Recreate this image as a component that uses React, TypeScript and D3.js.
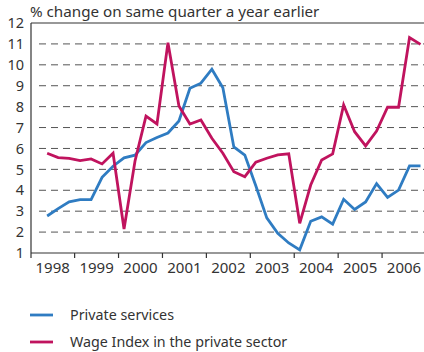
import React from "react";
import * as d3 from "d3";

const years = ["1998", "1999", "2000", "2001", "2002", "2003", "2004", "2005", "2006"];
const quarters = [
  "1998Q2", "1998Q3", "1998Q4",
  "1999Q1", "1999Q2", "1999Q3", "1999Q4",
  "2000Q1", "2000Q2", "2000Q3", "2000Q4",
  "2001Q1", "2001Q2", "2001Q3", "2001Q4",
  "2002Q1", "2002Q2", "2002Q3", "2002Q4",
  "2003Q1", "2003Q2", "2003Q3", "2003Q4",
  "2004Q1", "2004Q2", "2004Q3", "2004Q4",
  "2005Q1", "2005Q2", "2005Q3", "2005Q4",
  "2006Q1", "2006Q2", "2006Q3", "2006Q4",
];
const privateServices = [
  2.77, 3.12, 3.45,
  3.55, 3.55, 4.62, 5.15,
  5.55, 5.68, 6.28, 6.52,
  6.74, 7.31, 8.88, 9.12,
  9.79, 8.9, 6.07, 5.68,
  4.22, 2.68, 1.94, 1.48,
  1.15, 2.52, 2.73, 2.38,
  3.57, 3.08, 3.44, 4.32,
  3.66, 4.01, 5.17, 5.17,
];
const wageIndex = [
  5.77, 5.56, 5.53,
  5.42, 5.5, 5.26, 5.77,
  2.15, 5.4, 7.55, 7.17,
  11.06, 8.03, 7.17, 7.36,
  6.49, 5.77, 4.89, 4.65,
  5.34, 5.53, 5.69, 5.74,
  2.42, 4.25, 5.45, 5.74,
  8.08, 6.8, 6.12, 6.83,
  7.97, 7.97, 11.3, 10.98,
];
const yTicks = [1, 2, 3, 4, 5, 6, 7, 8, 9, 10, 11, 12];
const series = [
  { name: "Private services", values: privateServices, color: "#2f7cc2" },
  { name: "Wage Index in the private sector", values: wageIndex, color: "#c0135e" },
];

const W = 424;
const H = 352;
const left = 31;
const right = 426;
const top = 23;
const bottom = 253;
const font = "'Noto Sans', 'Open Sans', sans-serif";

export default function App() {
  const yearScale = d3.scaleBand<string>().domain(years).range([left - 0.3, right]).paddingInner(0).paddingOuter(0);
  const x = (q: string) => {
    const yr = q.slice(0, 4);
    const qi = +q.slice(5) - 1;
    return (yearScale(yr) as number) + (qi + 0.5) * (yearScale.bandwidth() / 4);
  };
  const y = d3.scaleLinear().domain([1, 12]).range([bottom, top]);
  const line = d3
    .line<number>()
    .x((_, i) => x(quarters[i]))
    .y((d) => y(d));

  return (
    <svg width={W} height={H} style={{ position: "absolute", left: 0, top: 0 }}>
      <rect x={0} y={0} width={W} height={H} fill="#fff" />
      <text x={30} y={17} fontFamily={font} fontSize={15.2} fill="#333">
        % change on same quarter a year earlier
      </text>
      {yTicks.filter((t) => t > 1 && t < 12).map((t) => (
        <line key={t} x1={left + 8} x2={W} y1={y(t)} y2={y(t)} stroke="#555" strokeWidth={1} strokeDasharray="7,5" />
      ))}
      <line x1={left} x2={W} y1={y(12)} y2={y(12)} stroke="#333" strokeWidth={1.2} />
      <line x1={left} x2={left} y1={top} y2={bottom + 5} stroke="#333" strokeWidth={1.2} />
      <line x1={left} x2={W} y1={bottom} y2={bottom} stroke="#333" strokeWidth={1.2} />
      {years.map((yr, i) =>
        i === 0 ? null : (
          <line key={yr} x1={yearScale(yr)} x2={yearScale(yr)} y1={bottom} y2={bottom + 5} stroke="#333" strokeWidth={1.2} />
        )
      )}
      {yTicks.map((t) => (
        <text key={t} x={24} y={y(t)} dy="0.36em" textAnchor="end" fontFamily={font} fontSize={14.5} fill="#333">
          {t}
        </text>
      ))}
      {years.map((yr) => (
        <text key={yr} x={(yearScale(yr) as number) + yearScale.bandwidth() / 2} y={273} textAnchor="middle" fontFamily={font} fontSize={15} fill="#333">
          {yr}
        </text>
      ))}
      {series.map((s) => (
        <path key={s.name} d={line(s.values) as string} fill="none" stroke={s.color} strokeWidth={2.8} strokeLinejoin="miter" />
      ))}
      {series.map((s, i) => (
        <g key={s.name} transform={`translate(0, ${315 + i * 27})`}>
          <line x1={30} x2={53} y1={0} y2={0} stroke={s.color} strokeWidth={2.8} />
          <text x={70} y={0} dy="0.36em" fontFamily={font} fontSize={14.3} fill="#333">
            {s.name}
          </text>
        </g>
      ))}
    </svg>
  );
}
